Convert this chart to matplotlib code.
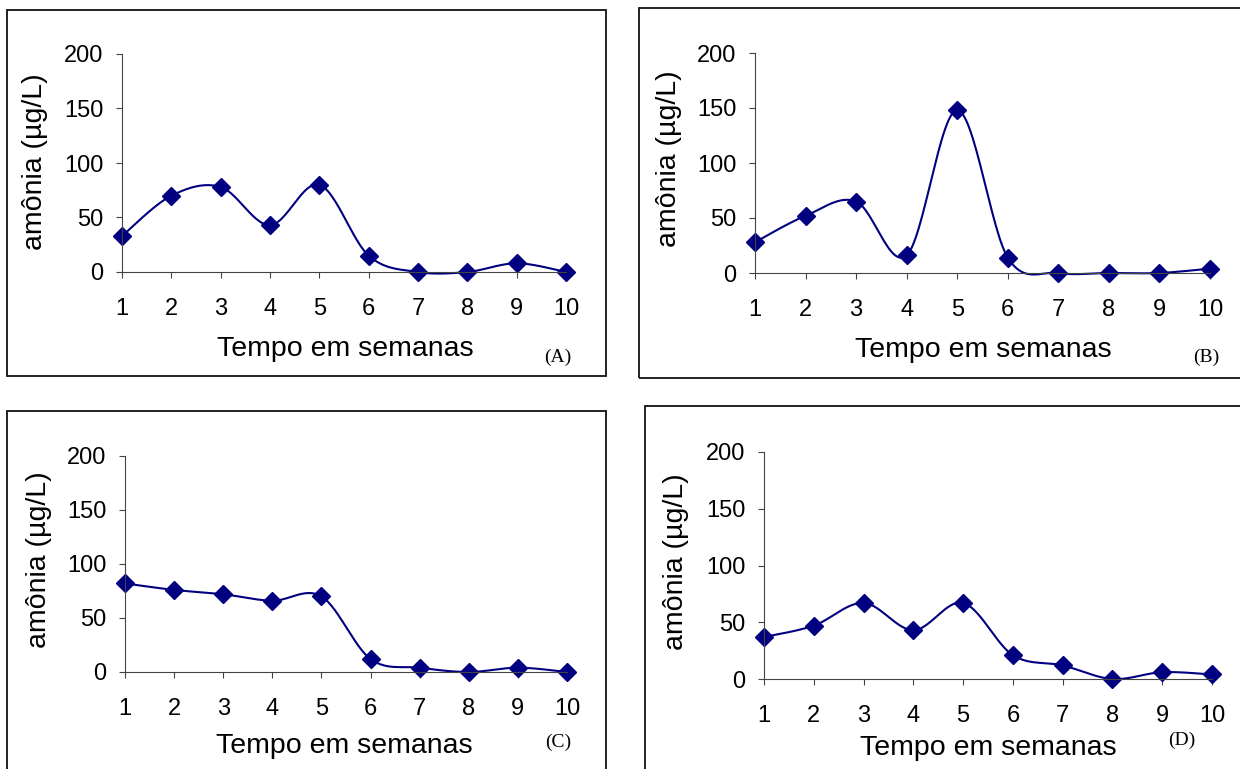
import numpy as np
import matplotlib
matplotlib.use("Agg")
import matplotlib.pyplot as plt
from matplotlib.patches import Rectangle

plt.rcParams["font.family"] = ["Liberation Sans", "DejaVu Sans"]

W, H = 1240, 769

semanas = [1, 2, 3, 4, 5, 6, 7, 8, 9, 10]
amonia_a = [33, 70, 78, 43, 80, 15, 0, 0, 8, 0]
amonia_b = [28, 52, 65, 16, 148, 14, 0, 0, 0, 4]
amonia_c = [82, 76, 72, 66, 70, 12, 4, 0, 4, 0]
amonia_d = [37, 47, 67, 43, 67, 21, 12, 0, 6, 4]
letras = ["(A)", "(B)", "(C)", "(D)"]

NAVY = "#000080"


def smooth(x, y, n=30):
    # Excel-style smoothed line: Catmull-Rom bezier between the points
    x = np.asarray(x, float)
    y = np.asarray(y, float)
    px = np.concatenate([[x[0]], x, [x[-1]]])
    py = np.concatenate([[y[0]], y, [y[-1]]])
    xs, ys = [], []
    t = np.linspace(0, 1, n)
    for i in range(1, len(px) - 2):
        p0 = np.array([px[i], py[i]])
        p3 = np.array([px[i + 1], py[i + 1]])
        c1 = p0 + (np.array([px[i + 1], py[i + 1]]) - np.array([px[i - 1], py[i - 1]])) / 6
        c2 = p3 - (np.array([px[i + 2], py[i + 2]]) - np.array([px[i], py[i]])) / 6
        b = ((1 - t) ** 3)[:, None] * p0 + (3 * (1 - t) ** 2 * t)[:, None] * c1 \
            + (3 * (1 - t) * t ** 2)[:, None] * c2 + (t ** 3)[:, None] * p3
        xs.extend(b[:, 0])
        ys.extend(b[:, 1])
    return xs, ys


def px_rect(left, top, right, bottom):
    return [left / W, 1 - bottom / H, (right - left) / W, (bottom - top) / H]


fig = plt.figure(figsize=(W / 100, H / 100), dpi=100)

# panel frames
frames = [(7, 10, 606, 376), (638.5, 7.5, 1245, 377.5),
          (7, 411, 606, 775), (645, 406, 1245, 775)]
for l, t, r, b in frames:
    x0, y0, w, h = px_rect(l, t, r, b)
    fig.patches.append(Rectangle((x0, y0), w, h, transform=fig.transFigure,
                                 fill=False, lw=1.3, ec="#111111", clip_on=False))

# axes boxes: (y-axis x, y=200 px, x=10 px, y=0 px)
axes_px = [(122, 54, 566, 272), (755, 53, 1210, 273),
           (125, 456, 567, 672), (764, 452, 1212, 679)]
ylab_pos = [(-0.196, 0.505), (-0.190, 0.521), (-0.195, 0.518), (-0.196, 0.518)]
xlab_px = [(345, 349), (983, 350), (344.5, 746), (988, 748)]
letra_px = [(558, 357), (1206, 357), (558, 742), (1182, 740)]
series = [amonia_a, amonia_b, amonia_c, amonia_d]

for i, vals in enumerate(series):
    l, t, r, b = axes_px[i]
    ax = fig.add_axes(px_rect(l, t, r, b))
    xs, ys = smooth(semanas, vals)
    ax.plot(xs, ys, color=NAVY, lw=1.5, clip_on=False)
    ax.plot(semanas, vals, "D", color=NAVY, ms=9, clip_on=False)
    ax.set_xlim(1, 10)
    ax.set_ylim(0, 200)
    ax.set_xticks(semanas)
    ax.set_yticks([0, 50, 100, 150, 200])
    for s in ["top", "right"]:
        ax.spines[s].set_visible(False)
    for s in ["left", "bottom"]:
        ax.spines[s].set_linewidth(0.8)
        ax.spines[s].set_color("#444444")
    ax.tick_params(axis="both", direction="out", length=4.5, width=0.8,
                   color="#444444", labelsize=17)
    ax.tick_params(axis="x", pad=14)
    ax.tick_params(axis="y", pad=9)
    ax.set_ylabel("amônia (µg/L)", fontsize=20.5)
    ax.yaxis.set_label_coords(*ylab_pos[i])
    ax.yaxis.label.set_va("center")
    ax.set_xlabel("Tempo em semanas", fontsize=20.5)
    ax.xaxis.set_label_coords((xlab_px[i][0] - l) / (r - l), (b - xlab_px[i][1]) / (b - t))
    ax.xaxis.label.set_va("center")
    fig.text(letra_px[i][0] / W, 1 - letra_px[i][1] / H, letras[i],
             family="Liberation Serif", fontsize=14, ha="center", va="center")

fig.savefig("out.png", dpi=100)
